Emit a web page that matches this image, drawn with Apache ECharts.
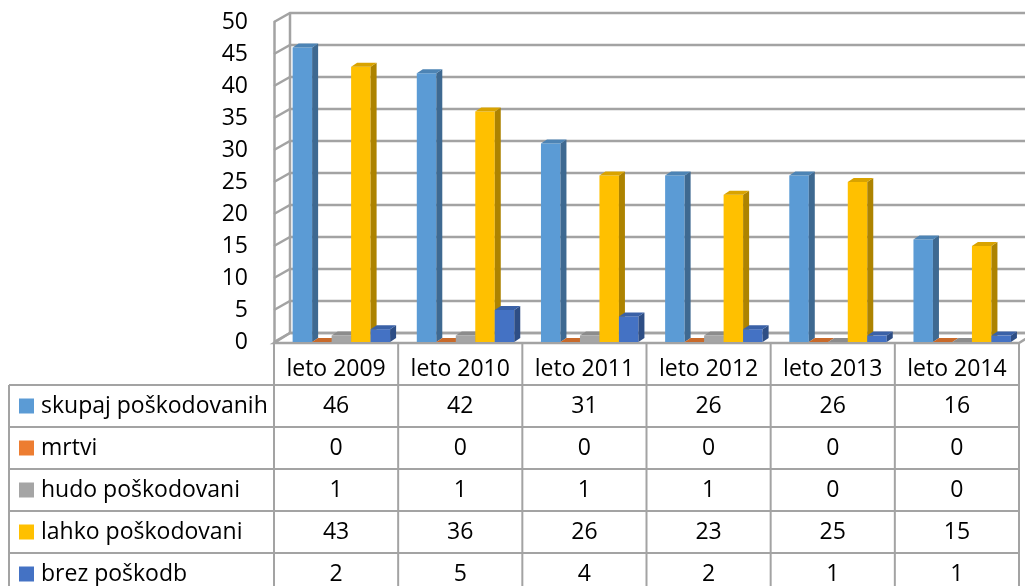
<!DOCTYPE html>
<html>
<head>
<meta charset="utf-8">
<script src="https://cdn.jsdelivr.net/npm/echarts@6/dist/echarts.min.js"></script>
<style>
  html, body { margin: 0; padding: 0; background: #fff; }
  #chart { width: 1025px; height: 586px; }
</style>
</head>
<body>
<div id="chart"></div>
<script>
const categories = ["leto 2009", "leto 2010", "leto 2011", "leto 2012", "leto 2013", "leto 2014"];
const seriesNames = ["skupaj poškodovanih", "mrtvi", "hudo poškodovani", "lahko poškodovani", "brez poškodb"];
const skupaj = [46, 42, 31, 26, 26, 16];
const mrtvi = [0, 0, 0, 0, 0, 0];
const hudo = [1, 1, 1, 1, 0, 0];
const lahko = [43, 36, 26, 23, 25, 15];
const brez = [2, 5, 4, 2, 1, 1];
const yTicks = [0, 5, 10, 15, 20, 25, 30, 35, 40, 45, 50];

const allValues = [skupaj, mrtvi, hudo, lahko, brez];
const colors = ["#5b9bd5", "#ed7d31", "#a5a5a5", "#ffc000", "#4472c4"];

const FONT = "Open Sans";
const GRID_LINE = "#a3a3a3";
const DEPTH_X = 16, DEPTH_Y = 9;   // back wall offset
const BAR_DX = 6, BAR_DY = 4;      // bar depth

function shade(hex, f) {
    const n = parseInt(hex.slice(1), 16);
    const r = Math.round(((n >> 16) & 255) * f);
    const g = Math.round(((n >> 8) & 255) * f);
    const b = Math.round((n & 255) * f);
    return "rgb(" + r + "," + g + "," + b + ")";
}

var chart = echarts.init(document.getElementById('chart'));

// walls: slanted left-wall lines + back-wall gridlines
function renderWall(params, api) {
    const cs = params.coordSys;
    const y = api.coord([0, api.value(1)])[1];
    const x = cs.x;
    return {
        type: "polyline",
        shape: { points: [[x, y], [x + DEPTH_X, y - DEPTH_Y], [x + cs.width + DEPTH_X + 10, y - DEPTH_Y]] },
        style: { stroke: GRID_LINE, lineWidth: 2.5, fill: null }
    };
}

// floor + back vertical edge
function renderFrame(params, api) {
    const cs = params.coordSys;
    const y0 = api.coord([0, 0])[1] + 1;
    const yTop = api.coord([0, 50])[1];
    const x = cs.x, xr = cs.x + cs.width;
    return {
        type: "group",
        children: [
            {
                type: "polygon",
                shape: { points: [[x, y0], [x + DEPTH_X, y0 - DEPTH_Y - 1], [xr + DEPTH_X, y0 - DEPTH_Y - 1], [xr, y0]] },
                style: { fill: "#fff", stroke: GRID_LINE, lineWidth: 2.5 }
            },
            {
                type: "line",
                shape: { x1: x + DEPTH_X, y1: y0 - DEPTH_Y - 1, x2: x + DEPTH_X, y2: yTop - DEPTH_Y },
                style: { stroke: GRID_LINE, lineWidth: 2.5 }
            }
        ]
    };
}

function makeBarRenderer(k) {
    return function (params, api) {
        const cat = api.value(0);
        const val = api.value(1);
        const base = api.coord([cat, 0]);
        const top = api.coord([cat, val]);
        const band = api.size([1, 0])[0];
        const w = band * 0.157;
        const x0 = base[0] - band / 2 + band * 0.15 + k * w;
        const yb = base[1], yt = top[1];
        const c = colors[k];
        return {
            type: "group",
            children: [
                {
                    type: "rect",
                    shape: { x: x0, y: yt, width: w, height: yb - yt },
                    style: { fill: c }
                },
                {
                    type: "polygon",
                    shape: { points: [[x0 + w, yt], [x0 + w + BAR_DX, yt - BAR_DY], [x0 + w + BAR_DX, yb - BAR_DY], [x0 + w, yb]] },
                    style: { fill: shade(c, 0.68) }
                },
                {
                    type: "polygon",
                    shape: { points: [[x0, yt], [x0 + BAR_DX, yt - BAR_DY], [x0 + w + BAR_DX, yt - BAR_DY], [x0 + w, yt]] },
                    style: { fill: shade(c, 0.85) }
                }
            ]
        };
    };
}

const series = [
    {
        type: "custom",
        renderItem: renderFrame,
        data: [[0, 0]],
        silent: true,
        clip: false,
        z: 1
    },
    {
        type: "custom",
        renderItem: renderWall,
        data: yTicks.map(v => [0, v]),
        silent: true,
        clip: false,
        z: 1
    }
];
allValues.forEach((vals, k) => {
    series.push({
        name: seriesNames[k],
        type: "custom",
        renderItem: makeBarRenderer(k),
        data: vals.map((v, i) => [i, v]),
        clip: false,
        z: 2
    });
});

chart.setOption({
    animation: false,
    grid: {
        left: 274,
        right: 6,
        top: 22,
        bottom: 244
    },
    xAxis: {
        type: "category",
        data: categories,
        axisLine: { show: false },
        axisTick: { show: false },
        axisLabel: { color: "#000", fontSize: 23, fontFamily: FONT, margin: 16, interval: 0 }
    },
    yAxis: {
        type: "value",
        min: 0,
        max: 50,
        interval: 5,
        axisLine: { show: true, lineStyle: { color: GRID_LINE, width: 2.5 } },
        axisTick: { show: false },
        splitLine: { show: false },
        axisLabel: { color: "#000", fontSize: 23, fontFamily: FONT, margin: 26, padding: [6, 0, 0, 0] }
    },
    series: series
});

// data table under the plot
const ROW_H = 42;
const tableTop = chart.convertToPixel({ gridIndex: 0 }, [0, 0])[1] + 1;
const firstCol = chart.convertToPixel({ gridIndex: 0 }, [0, 0])[0];
const bandW = chart.convertToPixel({ gridIndex: 0 }, [1, 0])[0] - firstCol;
const leftX = firstCol - bandW / 2;
const rightX = leftX + bandW * categories.length;
const legendLeft = 9;
const graphics = [];

for (let r = 1; r <= seriesNames.length + 1; r++) {
    const y = tableTop + ROW_H * r;
    graphics.push({
        type: "line",
        shape: { x1: legendLeft, y1: y, x2: rightX, y2: y },
        style: { stroke: GRID_LINE, lineWidth: 2 }
    });
}
for (let i = 0; i <= categories.length; i++) {
    const x = leftX + bandW * i;
    graphics.push({
        type: "line",
        shape: { x1: x, y1: tableTop, x2: x, y2: 600 },
        style: { stroke: GRID_LINE, lineWidth: 2 }
    });
}
graphics.push({
    type: "line",
    shape: { x1: legendLeft, y1: tableTop + ROW_H, x2: legendLeft, y2: 600 },
    style: { stroke: GRID_LINE, lineWidth: 2 }
});

seriesNames.forEach((name, k) => {
    const cy = tableTop + ROW_H * (k + 1) + ROW_H / 2;
    graphics.push({
        type: "rect",
        shape: { x: 19, y: cy - 7.5, width: 15, height: 15 },
        style: { fill: colors[k] }
    });
    graphics.push({
        type: "text",
        x: 41,
        y: cy,
        style: { text: name, fill: "#000", fontSize: 23, fontFamily: FONT, verticalAlign: "middle", align: "left" }
    });
    allValues[k].forEach((v, i) => {
        const cx = chart.convertToPixel({ gridIndex: 0 }, [i, 0])[0];
        graphics.push({
            type: "text",
            x: cx,
            y: cy,
            style: { text: String(v), fill: "#000", fontSize: 23, fontFamily: FONT, verticalAlign: "middle", align: "center" }
        });
    });
});

chart.setOption({ graphic: graphics });

window.addEventListener("resize", () => {
    if (chart) chart.resize();
});
</script>
</body>
</html>
